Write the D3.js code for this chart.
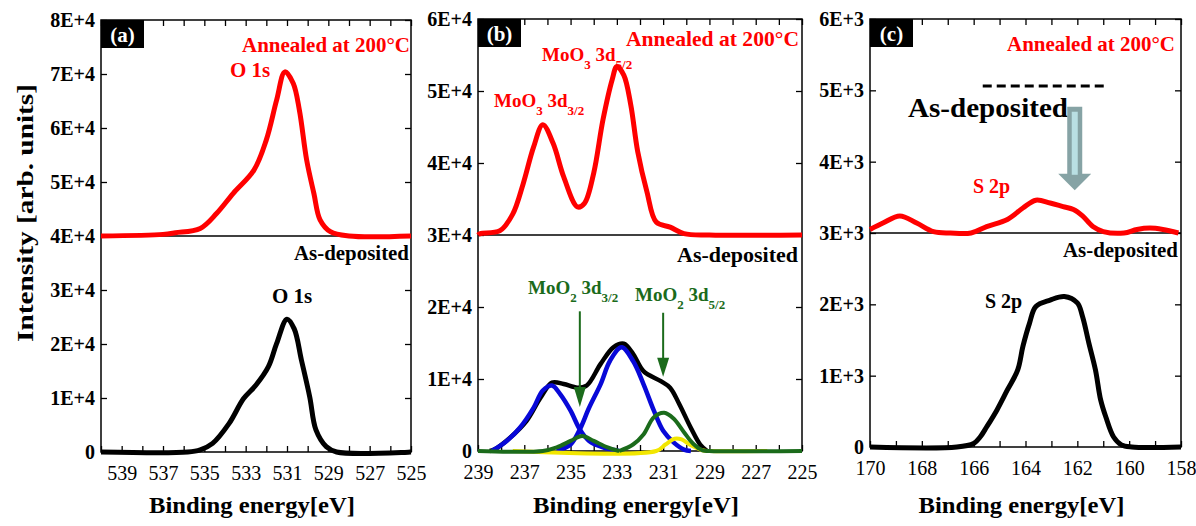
<!DOCTYPE html>
<html>
<head>
<meta charset="utf-8">
<script src="https://cdn.jsdelivr.net/npm/d3@7"></script>
<style>
  body { margin: 0; background: #fff; }
  text { font-family: "Liberation Serif", "Times New Roman", serif; }
</style>
</head>
<body>
<svg id="chart" width="1196" height="526"></svg>
<script>
// ---- data: [binding energy (eV), intensity] ----

// (a) O 1s
var o1sAnnealed = [[540,40000],[537,40300],[536.4,40600],[535.2,41400],[534.4,44200],[533.6,47900],
  [532.6,52200],[532.0,57800],[531.5,65200],[531.1,70400],[530.7,68300],[530.4,63300],[530.05,54100],
  [529.7,47900],[529.4,43000],[528.9,40800],[528.0,40000],[525,40000]];
var o1sDeposited = [[540,0],[535.8,0],[535.2,400],[534.6,1600],[533.8,5300],[533.1,9900],[532.5,12400],
  [531.9,15800],[531.5,20100],[531.0,24600],[530.65,22800],[530.3,17000],[529.9,10200],[529.6,4100],
  [529.1,1000],[528.6,0],[525,0]];

// (b) Mo 3d
var mo3dAnnealed = [[239,30000],[238.9,30200],[238.05,30600],[237.5,32900],[237.05,37100],[236.6,42200],
  [236.2,45300],[235.75,42700],[235.3,38100],[234.7,33900],[234.4,34400],[234.0,38600],[233.6,46000],
  [233.2,51600],[233.0,53400],[232.7,52200],[232.4,48100],[232.1,41600],[231.7,36000],[231.3,31800],
  [230.7,31100],[230.1,30200],[229,30000],[225,30000]];
var mo3dDeposited = [[238.5,0],[238.3,200],[237.6,1900],[236.9,4200],[236.3,7400],[235.8,9500],[235.3,9300],
  [234.7,8800],[234.3,9100],[233.7,12100],[233.15,14400],[232.7,14900],[232.3,13500],[231.85,11100],
  [231.1,9700],[230.7,8800],[230.3,6500],[229.8,3200],[229.4,900],[229.1,0]];
var mo3Fit32 = [[238.4,0],[237.76,1400],[237.2,3200],[236.6,6000],[236.2,8400],[235.8,9100],[235.45,7900],
  [235.0,5600],[234.6,3000],[234.2,1400],[233.6,500],[232.9,0]];
var mo3Fit52 = [[235.6,0],[235.0,900],[234.6,3000],[234.2,6000],[233.7,9300],[233.3,12500],[232.8,14400],
  [232.3,12500],[231.85,9300],[231.4,5600],[231.0,2800],[230.55,1200],[230.1,200],[229.8,0]];
var mo2Fit32 = [[239,0],[236.2,0],[235.6,500],[235.0,1400],[234.5,2100],[234.0,1400],[233.4,500],[232.9,0]];
var mo2Fit52 = [[232.9,0],[232.3,900],[231.85,2300],[231.4,4700],[230.95,5300],[230.55,4500],[230.1,2600],
  [229.7,1000],[229.3,100],[229.0,0],[225,0]];
var extraFit = [[237.5,0],[231.3,0],[230.9,900],[230.5,1700],[230.2,1600],[229.8,800],[229.3,100],[229.0,0],[226.5,0]];

// (c) S 2p
var s2pAnnealed = [[170,3050],[169.5,3140],[168.85,3240],[168.2,3140],[167.55,3020],[166.9,3000],[166.1,3000],
  [165.5,3090],[164.7,3190],[164.1,3350],[163.6,3460],[163.05,3420],[162.55,3370],[162.15,3330],[161.8,3240],
  [161.4,3090],[161.0,3020],[160.2,3000],[159.7,3050],[159.2,3070],[158.7,3050],[158.1,3000]];
var s2pDeposited = [[170,0],[166.65,0],[166.0,50],[165.75,140],[165.5,280],[165.1,520],[164.7,800],[164.3,1080],
  [164.1,1410],[163.85,1730],[163.6,1970],[163.05,2060],[162.5,2110],[162.0,2020],[161.8,1830],[161.55,1450],
  [161.3,1080],[161.1,660],[160.9,420],[160.6,140],[160.3,30],[159.9,0],[158,0]];

// axes
var energyA = [540, 525], energyB = [239, 225], energyC = [170, 158];
var maxA = 80000, maxB = 60000, maxC = 6000;
var stepA = 10000, stepB = 10000, stepC = 1000;
var splitA = 40000, splitB = 30000, splitC = 3000;

var svg = d3.select("#chart");
var RED = "#ff0000", BLUE = "#0808d8", GREEN = "#1b6b1b", YELLOW = "#f2e600";

function sci(d) {
  if (d === 0) return "0";
  var p = Math.floor(Math.log10(d));
  return Math.round(d / Math.pow(10, p)) + "E+" + p;
}

function panel(box, dom, yMax, yStep, split, tag) {
  var x = d3.scaleLinear().domain(dom).range([box.left, box.right]);
  var y = d3.scaleLinear().domain([0, yMax]).range([box.bottom, box.top]);
  var g = svg.append("g");
  var xt = d3.range(dom[1], dom[0] + 1);
  var yt = d3.range(0, yMax + yStep / 2, yStep);

  var bottom = g.append("g").attr("transform", "translate(0," + box.bottom + ")")
    .call(d3.axisBottom(x).tickValues(xt).tickSize(-6).tickPadding(14)
      .tickFormat(function(d) { return (d - dom[1]) % 2 === 0 ? d : ""; }));
  g.append("g").attr("transform", "translate(0," + box.top + ")")
    .call(d3.axisTop(x).tickValues(xt).tickSize(-6).tickFormat(""));
  var left = g.append("g").attr("transform", "translate(" + box.left + ",0)")
    .call(d3.axisLeft(y).tickValues(yt).tickSize(-6).tickPadding(6).tickFormat(sci));
  g.append("g").attr("transform", "translate(" + box.right + ",0)")
    .call(d3.axisRight(y).tickValues(yt).tickSize(-6).tickFormat(""));

  g.selectAll(".domain").remove();
  g.selectAll(".tick line").attr("stroke", "#000").attr("stroke-width", 1.3);
  bottom.selectAll("text").attr("font-family", "Liberation Serif").attr("font-size", 20).attr("fill", "#000");
  left.selectAll("text").attr("font-family", "Liberation Serif").attr("font-size", 20)
    .attr("font-weight", "bold").attr("fill", "#000");

  g.append("rect").attr("x", box.left).attr("y", box.top)
    .attr("width", box.right - box.left).attr("height", box.bottom - box.top)
    .attr("fill", "none").attr("stroke", "#000").attr("stroke-width", 1.5);
  g.append("line").attr("x1", box.left).attr("x2", box.right)
    .attr("y1", y(split)).attr("y2", y(split)).attr("stroke", "#000").attr("stroke-width", 1.5);

  // panel tag
  g.append("rect").attr("x", box.left).attr("y", box.top).attr("width", 43).attr("height", 28).attr("fill", "#000");
  g.append("text").attr("x", box.left + 21.5).attr("y", box.top + 22).attr("text-anchor", "middle")
    .attr("font-size", 21).attr("font-weight", "bold").attr("fill", "#fff").text(tag);

  var mid = (box.left + box.right) / 2 - 4;
  g.append("text").attr("x", mid - 103).attr("y", 513)
    .attr("font-size", 23).attr("font-weight", "bold")
    .attr("textLength", 206).attr("lengthAdjust", "spacingAndGlyphs")
    .text("Binding energy[eV]");

  var line = d3.line().x(function(d) { return x(d[0]); }).y(function(d) { return y(d[1]); })
    .curve(d3.curveCatmullRom.alpha(0.5));
  return { x: x, y: y, g: g, line: line };
}

function curve(p, data, color, w) {
  p.g.append("path").datum(data).attr("d", p.line).attr("fill", "none")
    .attr("stroke", color).attr("stroke-width", w).attr("stroke-linejoin", "round");
}

// o.end: right edge of the text; o.len: stretched width
function note(g, x, y, txt, o) {
  o = o || {};
  var t = g.append("text").attr("y", y)
    .attr("font-size", o.size || 20).attr("font-weight", o.weight || "bold")
    .attr("fill", o.color || "#000").text(txt);
  if (o.len) {
    t.attr("x", o.end ? x - o.len : x).attr("textLength", o.len).attr("lengthAdjust", "spacingAndGlyphs");
  } else {
    t.attr("x", x).attr("text-anchor", o.end ? "end" : "start");
  }
  return t;
}

// label with two subscripts, e.g. MoO3 3d5/2
function subNote(g, x, y, base, s1, mid, s2, color) {
  var t = g.append("text").attr("x", x).attr("y", y).attr("font-size", 19)
    .attr("font-weight", "bold").attr("fill", color);
  t.append("tspan").text(base);
  t.append("tspan").attr("dy", 8).attr("font-size", 13).text(s1);
  t.append("tspan").attr("dy", -8).text(mid);
  t.append("tspan").attr("dy", 8).attr("font-size", 13).text(s2);
}

function arrowDown(g, cx, y0, y1, headLen, half, color) {
  g.append("line").attr("x1", cx).attr("x2", cx).attr("y1", y0).attr("y2", y1 - headLen + 2)
    .attr("stroke", color).attr("stroke-width", 2);
  g.append("path").attr("d", "M" + (cx - half) + "," + (y1 - headLen) + "L" + (cx + half) + "," + (y1 - headLen) +
    "L" + cx + "," + y1 + "Z").attr("fill", color);
}

// ---- panel (a) ----
var pa = panel({ left: 101, right: 411, top: 20, bottom: 452 }, energyA, maxA, stepA, splitA, "(a)");
curve(pa, o1sAnnealed, RED, 5);
curve(pa, o1sDeposited, "#000", 5);
note(pa.g, 410, 52, "Annealed at 200°C", { color: RED, size: 21, len: 168, end: true });
note(pa.g, 230, 77, "O 1s", { color: RED, size: 21 });
note(pa.g, 409, 260, "As-deposited", { size: 20, len: 115, end: true });
note(pa.g, 272, 303, "O 1s", { size: 21 });

// ---- panel (b) ----
var pb = panel({ left: 478, right: 802, top: 19, bottom: 451 }, energyB, maxB, stepB, splitB, "(b)");
curve(pb, mo3dAnnealed, RED, 5);
curve(pb, mo3dDeposited, "#000", 4.5);
curve(pb, mo3Fit32, BLUE, 4.5);
curve(pb, mo3Fit52, BLUE, 4.5);
curve(pb, extraFit, YELLOW, 4);
curve(pb, mo2Fit32, GREEN, 4);
curve(pb, mo2Fit52, GREEN, 4);
note(pb.g, 799, 46, "Annealed at 200°C", { color: RED, size: 21, len: 173, end: true });
subNote(pb.g, 542, 61, "MoO", "3", " 3d", "5/2", RED);
subNote(pb.g, 494, 107, "MoO", "3", " 3d", "3/2", RED);
note(pb.g, 798, 262, "As-deposited", { size: 20, len: 121, end: true });
subNote(pb.g, 528, 294, "MoO", "2", " 3d", "3/2", GREEN);
subNote(pb.g, 635, 301, "MoO", "2", " 3d", "5/2", GREEN);
arrowDown(pb.g, pb.x(234.6), pb.y(19400), pb.y(6100), 20, 6, GREEN);
arrowDown(pb.g, pb.x(231.0), pb.y(19200), pb.y(10300), 19, 6, GREEN);

// ---- panel (c) ----
var pc = panel({ left: 870, right: 1181, top: 19, bottom: 447 }, energyC, maxC, stepC, splitC, "(c)");
curve(pc, s2pAnnealed, RED, 5);
curve(pc, s2pDeposited, "#000", 5);
note(pc.g, 1175, 51, "Annealed at 200°C", { color: RED, size: 21, len: 168, end: true });
pc.g.append("line").attr("x1", pc.x(165.65)).attr("x2", pc.x(160.8))
  .attr("y1", pc.y(5060)).attr("y2", pc.y(5060))
  .attr("stroke", "#000").attr("stroke-width", 3).attr("stroke-dasharray", "9,5");
note(pc.g, 908, 117, "As-deposited", { size: 28, len: 160 });
note(pc.g, 973, 193, "S 2p", { color: RED, size: 20 });
note(pc.g, 1178, 257, "As-deposited", { size: 20, len: 115, end: true });
note(pc.g, 985, 308, "S 2p", { size: 20 });

// hollow grey arrow
(function() {
  var cx = pc.x(162.1), top = pc.y(4770), neck = pc.y(3830), tip = pc.y(3600);
  pc.g.append("path")
    .attr("d", "M" + (cx - 7.5) + "," + top + "H" + (cx + 7.5) + "V" + neck + "H" + (cx + 16.5) +
      "L" + cx + "," + tip + "L" + (cx - 16.5) + "," + neck + "H" + (cx - 7.5) + "Z")
    .attr("fill", "#86a3a5");
  pc.g.append("rect").attr("x", cx - 3).attr("y", top + 5).attr("width", 6).attr("height", neck - top - 4)
    .attr("fill", "#b9dfe3");
})();

// shared y title
svg.append("text").attr("transform", "translate(25,213) rotate(-90)")
  .attr("x", -129).attr("dominant-baseline", "central")
  .attr("font-size", 23).attr("font-weight", "bold")
  .attr("textLength", 258).attr("lengthAdjust", "spacingAndGlyphs")
  .text("Intensity [arb. units]");
</script>
</body>
</html>
